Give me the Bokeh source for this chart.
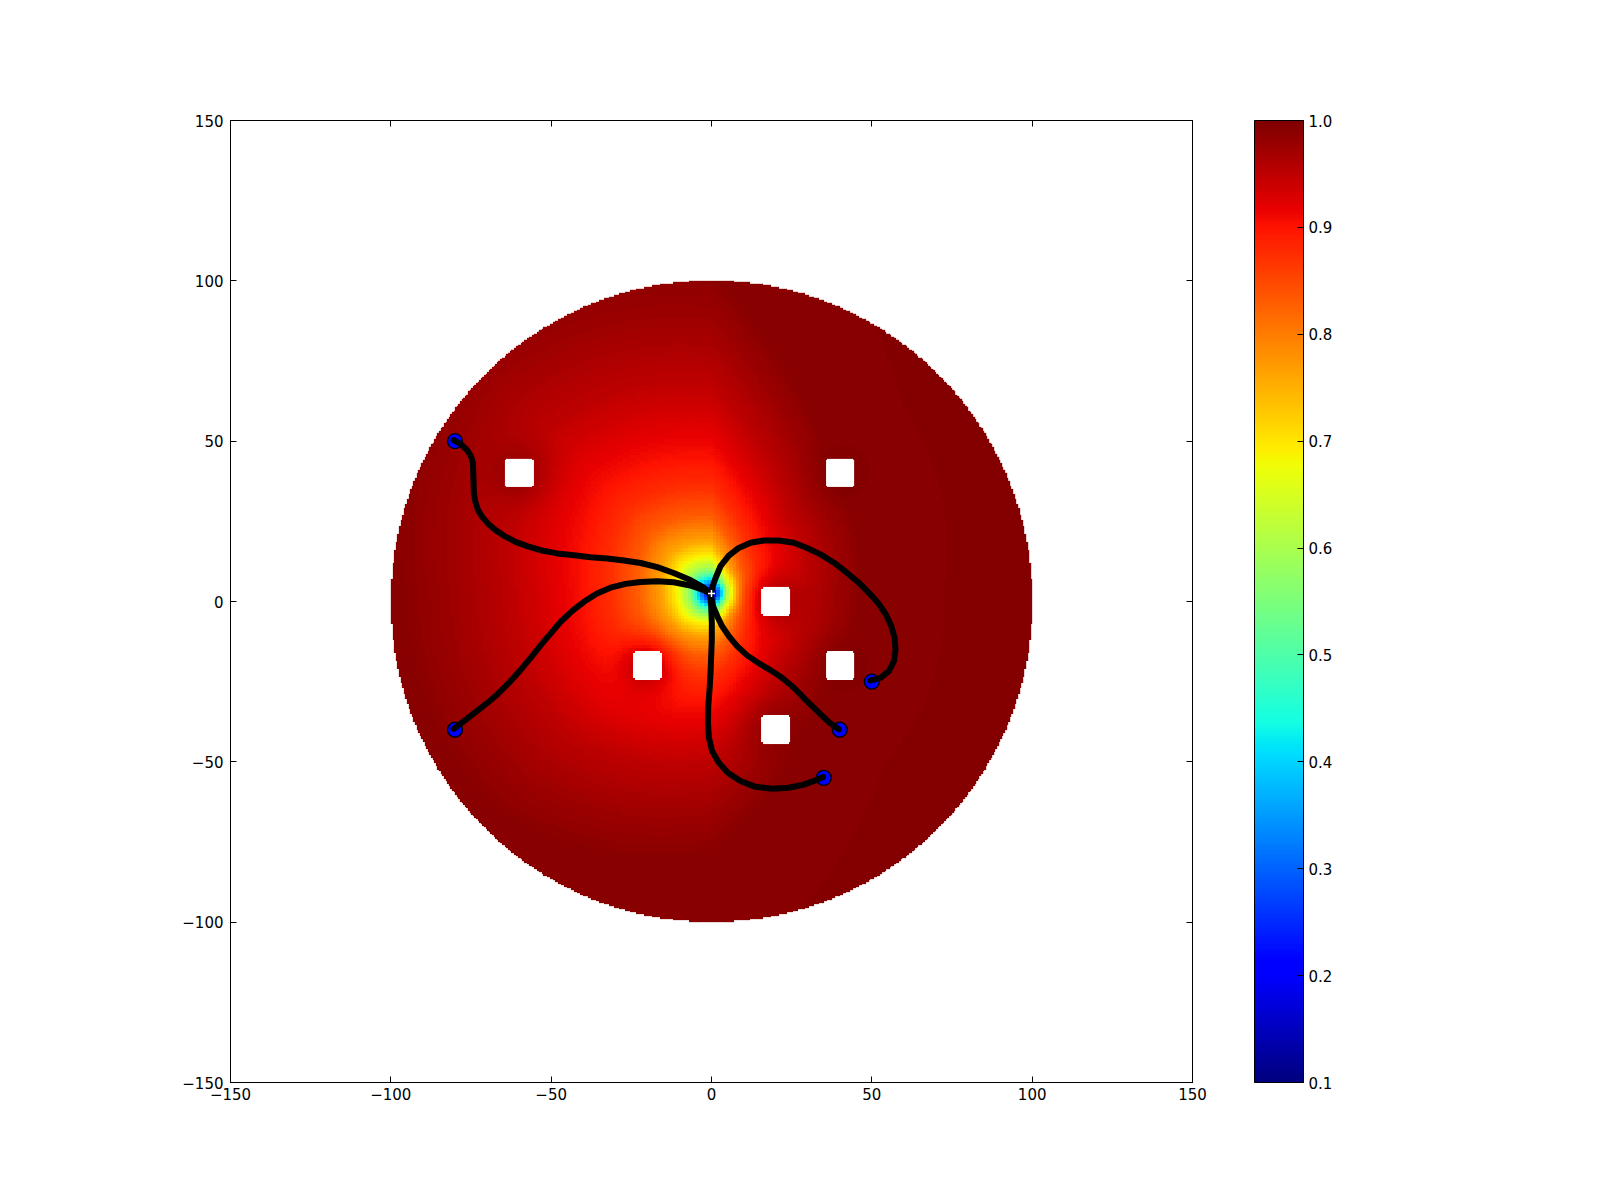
import numpy as np
from bokeh.plotting import figure
from bokeh.models import (LinearColorMapper, ColorBar, FixedTicker, LinearAxis,
                          PrintfTickFormatter)
from bokeh.embed import file_html
from bokeh.resources import INLINE

# ---------------- data ----------------
axis_ticks = [-150, -100, -50, 0, 50, 100, 150]
axis_labels = {-150: "\u2212150", -100: "\u2212100", -50: "\u221250",
               0: "0", 50: "50", 100: "100", 150: "150"}
cbar_ticks = [0.1, 0.2, 0.3, 0.4, 0.5, 0.6, 0.7, 0.8, 0.9, 1.0]
cbar_low, cbar_high = 0.1, 1.0

sink_x, sink_y = 0.0, 2.5
disk_radius = 100.0
obs_x = [-60, 40, 20, -20, 40, 20]
obs_y = [40, 40, 0, -20, -20, -40]
obs_half = 4.6

# radial profile of the field (effective distance -> value)
prof_d = [0, 1.5, 3, 4.5, 6, 8, 11, 16, 24, 33, 45, 65, 85, 100, 300]
prof_v = [0.12, 0.22, 0.32, 0.42, 0.52, 0.60, 0.68, 0.76, 0.83, 0.875, 0.91, 0.95, 0.975, 0.99, 1.0]
# direction stretch of the field (angle in degrees -> factor)
dir_ang = [0, 45, 90, 135, 180, 225, 270, 315, 360]
dir_k = [2.2, 1.9, 1.0, 0.9, 1.05, 1.05, 1.25, 2.1, 2.2]

start_x = [-80, -80, 50, 40, 35]
start_y = [50, -40, -25, -40, -55]

path1_x = [-80.4, -78.1, -76.2, -75.0, -74.4, -74.3, -74.2, -74.1, -73.7, -72.9, -71.5, -69.6,
           -67.4, -64.6, -61.1, -57.3, -53.3, -48.1, -42.9, -37.7, -32.5, -27.3, -22.1,
           -16.9, -11.8, -6.6, -2.4, -0.3]
path1_y = [50.3, 49.0, 47.2, 45.3, 43.3, 40.1, 37.0, 33.9, 31.3, 28.7, 26.4, 24.2,
           22.3, 20.4, 18.6, 17.2, 16.0, 15.0, 14.4, 13.8, 13.4, 12.8, 12.0,
           10.7, 8.9, 6.7, 4.3, 2.4]
path2_x = [-80.4, -77.2, -74.1, -70.5, -66.8, -63.2, -59.6, -56.4, -53.3, -50.2, -47.1,
           -43.5, -39.8, -35.7, -31.5, -26.8, -22.1, -16.9, -11.8, -6.6, -2.4, -0.3]
path2_y = [-39.7, -37.3, -34.9, -32.1, -29.0, -25.4, -21.4, -17.6, -13.7, -10.0, -6.4,
           -3.0, -0.1, 2.5, 4.3, 5.5, 6.1, 6.3, 6.0, 5.0, 3.5, 2.5]
path3_x = [49.6, 52.7, 55.3, 56.9, 57.4, 57.1, 56.0, 54.3, 51.9, 49.1, 46.0, 42.3, 38.2,
           34.0, 29.8, 25.7, 21.0, 16.3, 12.2, 8.5, 5.4, 2.8, 1.3, 0.2, -0.3]
path3_y = [-24.6, -23.8, -21.7, -18.6, -15.0, -11.3, -7.5, -3.9, -0.4, 2.7, 5.8, 8.9, 12.1,
           14.7, 16.7, 18.3, 19.0, 19.0, 18.3, 16.7, 14.3, 11.0, 7.4, 4.3, 2.2]
path4_x = [-0.3, 0.5, 1.8, 3.3, 5.4, 8.0, 11.1, 14.8, 18.4, 22.0, 25.7, 29.3, 33.0, 36.6, 39.7]
path4_y = [2.5, -1.5, -4.6, -7.7, -10.8, -13.9, -16.8, -19.3, -21.4, -23.8, -26.9, -30.6,
           -34.2, -37.6, -39.9]
path5_x = [-0.3, -0.1, 0.1, 0.1, -0.1, -0.3, -0.6, -1.0, -1.1, -0.8, 0.2, 2.3, 5.1, 9.0,
           13.7, 18.9, 24.1, 28.8, 32.4, 34.8]
path5_y = [2.5, -1.5, -6.7, -11.9, -17.1, -22.3, -27.4, -32.6, -37.8, -42.5, -46.7, -50.3,
           -53.4, -56.0, -57.8, -58.4, -58.1, -57.1, -55.8, -54.7]

# ---------------- field ----------------
step = 0.5
g = np.arange(-disk_radius + step / 2, disk_radius, step)
X, Y = np.meshgrid(g, g)
Xs, Ys = np.round(X), np.round(Y)
dx, dy = Xs - sink_x, Ys - sink_y
r = np.hypot(dx, dy)
ang = np.degrees(np.arctan2(dy, dx)) % 360
k = np.interp(ang, dir_ang, dir_k)
keff = 1 + (k - 1) * np.clip(r / 10.0, 0, 1)
val = np.interp(r * keff, prof_d, prof_v)
for ox, oy in zip(obs_x, obs_y):
    d = np.hypot(Xs - ox, Ys - oy)
    val = val + (1 - val) * 0.6 * np.exp(-(d / 9.0) ** 2)
for ox, oy in zip(obs_x, obs_y):
    inside = (np.abs(X - ox) ** 6 + np.abs(Y - oy) ** 6) <= obs_half ** 6
    val[inside] = np.nan
val[np.hypot(X, Y) > disk_radius] = np.nan
val = val.astype(np.float32)

# ---------------- jet palette ----------------
t = np.linspace(0, 1, 256)
rr = np.interp(t, [0, 0.35, 0.66, 0.89, 1], [0, 0, 1, 1, 0.5])
gg = np.interp(t, [0, 0.125, 0.375, 0.64, 0.91, 1], [0, 0, 1, 1, 0, 0])
bb = np.interp(t, [0, 0.11, 0.34, 0.65, 1], [0.5, 1, 1, 0, 0])
jet = ["#%02x%02x%02x" % (int(a * 255 + .5), int(b * 255 + .5), int(c * 255 + .5))
       for a, b, c in zip(rr, gg, bb)]

mapper = LinearColorMapper(palette=jet, low=cbar_low, high=cbar_high, nan_color="white")

FONT = "DejaVu Sans"
FS = "15px"

p = figure(width=1584, height=1187, x_range=(-150, 150), y_range=(-150, 150),
           output_backend="svg", toolbar_location=None,
           min_border_left=230, min_border_top=120, min_border_bottom=105,
           min_border_right=392)
p.grid.visible = False
p.outline_line_color = "black"
p.outline_line_width = 1
p.background_fill_color = "white"
p.border_fill_color = "white"

p.image(image=[val], x=-disk_radius, y=-disk_radius, dw=2 * disk_radius,
        dh=2 * disk_radius, color_mapper=mapper)

p.scatter(start_x, start_y, size=15, fill_color="#0000ff", line_color="black",
          line_width=1.3)
for xs, ys in [(path1_x, path1_y), (path2_x, path2_y), (path3_x, path3_y),
               (path4_x, path4_y), (path5_x, path5_y)]:
    p.line(xs, ys, line_color="black", line_width=6, line_cap="round",
           line_join="round")
p.scatter([sink_x], [sink_y], marker="cross", size=7, line_color="white",
          line_width=1.5)


def style_axis(ax, labels=True):
    ax.ticker = FixedTicker(ticks=axis_ticks)
    ax.major_label_overrides = axis_labels
    ax.minor_tick_line_color = None
    ax.major_tick_in = 6
    ax.major_tick_out = 0
    ax.axis_line_color = "black"
    ax.major_tick_line_color = "black"
    ax.major_label_text_font = FONT
    ax.major_label_text_font_size = FS
    ax.major_label_text_color = "black"
    if not labels:
        ax.major_label_text_color = None
        ax.major_label_standoff = 0


style_axis(p.xaxis[0])
style_axis(p.yaxis[0])
p.xaxis[0].major_label_standoff = 5
p.yaxis[0].major_label_standoff = 7

top = LinearAxis()
style_axis(top, labels=False)
right = LinearAxis()
style_axis(right, labels=False)
p.add_layout(top, "above")
p.add_layout(right, "right")

cb = ColorBar(color_mapper=mapper, ticker=FixedTicker(ticks=cbar_ticks),
              formatter=PrintfTickFormatter(format="%.1f"),
              width=49, padding=0, margin=0, location=(62, 0),
              bar_line_color="black", bar_line_width=1,
              major_tick_in=6, major_tick_out=0, major_tick_line_color="black",
              minor_tick_line_color=None, label_standoff=5,
              major_label_text_font=FONT, major_label_text_font_size=FS,
              major_label_text_color="black",
              background_fill_color=None, border_line_color=None)
p.add_layout(cb, "right")

open("out.html", "w").write(file_html(p, INLINE))
